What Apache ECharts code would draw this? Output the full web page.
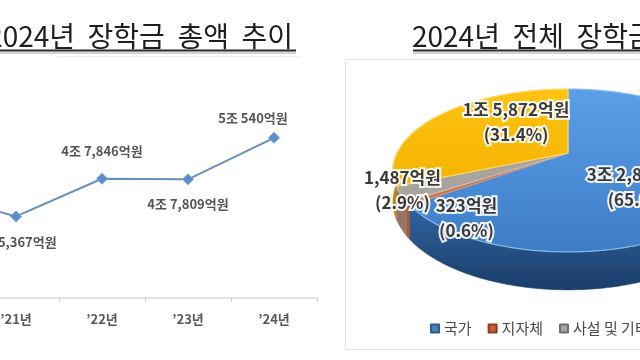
<!DOCTYPE html>
<html><head><meta charset="utf-8">
<script src="https://cdn.jsdelivr.net/npm/echarts@6/dist/echarts.min.js"></script>
<style>html,body{margin:0;padding:0;background:#fff}#main{width:640px;height:360px}</style>
</head><body><div id="main"></div>
<script>
// ---- data ----
const years = ['’20년', '’21년', '’22년', '’23년', '’24년'];
const totals = [46900, 45367, 47846, 47809, 50540]; // 억원
const pieNames = ['국가', '지자체', '사설 및 기타', '교내'];
const pieValues = [32858, 323, 1487, 15872]; // 억원
const leftTitle = '2024년 장학금 총액 추이';
const rightTitle = '2024년 전체 장학금 구성';

// ---- layout / style config ----
const FONT = '"Noto Sans CJK KR", "Noto Sans", sans-serif';
const lineLabelLayout = [
  {pos: 'bottom', dist: 13, dx: 0},
  {pos: 'bottom', dist: 13, dx: 0},
  {pos: 'top', dist: 15, dx: 0},
  {pos: 'bottom', dist: 12, dx: 0},
  {pos: 'top', dist: 7, dx: -21}
];
const P = {cx: 568, cy: 153, R: 171, Ry: 77.7, k: 0.2147, depth: 29.8};
const topColors = [
  {type: 'linear', x: 0, y: 89, x2: 0, y2: 252, global: true, colorStops: [{offset: 0, color: '#5a9fe8'}, {offset: 1, color: '#3d7dc6'}]},
  '#c9764f', '#aaa49f',
  {type: 'linear', x: 0, y: 89, x2: 0, y2: 190, global: true, colorStops: [{offset: 0, color: '#ffc313'}, {offset: 1, color: '#f3b200'}]}
];
const topStroke = ['#86b8ee', '#d99070', '#c4bfba', '#ffd866'];
const sideColors = [
  {type: 'linear', x: 0, y: 200, x2: 0, y2: 290, global: true, colorStops: [{offset: 0, color: '#3066a3'}, {offset: 1, color: '#1b3d69'}]},
  '#9c5a36', '#9a7462', '#b98a10'
];
const legendColors = ['#4a7ebb', '#cc5b3a', '#a5a5a5', '#ffc000'];
const legendBorders = ['#2f5a8e', '#8e3a22', '#707070', '#b08500'];
const pieLabelLayout = [
  {f: 0.5, dx: -8, dy: 15},
  {f: 0.7, dx: 6, dy: 31},
  {f: 1.0, dx: 2, dy: -4},
  {f: 0.6, dx: 28, dy: -7}
];

// ---- helpers ----
function fmtEok(v) {
  const jo = Math.floor(v / 10000), r = v % 10000;
  return (jo ? jo + '조 ' : '') + r.toLocaleString('en-US') + '억원';
}
const pieTotal = pieValues.reduce((a, b) => a + b, 0);
function sliceAngles(i) {
  let s = 0;
  for (let j = 0; j < i; j++) s += pieValues[j];
  return [s / pieTotal * 360, (s + pieValues[i]) / pieTotal * 360];
}
function proj(deg, f) {
  const t = deg * Math.PI / 180;
  const u = f * Math.sin(t), v = -f * Math.cos(t);
  const d = 1 - P.k * v;
  return [P.cx + P.R * u / d, P.cy + P.Ry * v / d, d];
}
function arc(a0, a1, f) {
  const n = Math.max(2, Math.ceil(a1 - a0));
  const pts = [];
  for (let s = 0; s <= n; s++) pts.push(proj(a0 + (a1 - a0) * s / n, f));
  return pts;
}
const gapTitle = t => t.split(' ').join('  ');

const chart = echarts.init(document.getElementById('main'));
chart.setOption({
  backgroundColor: '#fff',
  animation: false,
  grid: {left: -113, right: 323, top: 70, bottom: 62, containLabel: false, outerBoundsMode: 'none'},
  xAxis: {
    type: 'category', data: years, boundaryGap: true,
    axisLine: {lineStyle: {color: '#d9d9d9', width: 1.5}},
    axisTick: {show: true, length: 4, lineStyle: {color: '#d0d0d0'}},
    axisLabel: {color: '#595959', fontSize: 13, fontWeight: 'bold', margin: 15, fontFamily: FONT}
  },
  yAxis: {type: 'value', show: false, min: 40000, max: 55000},
  legend: {
    data: pieNames, left: 425, top: 316, width: 500,
    itemWidth: 8, itemHeight: 8, itemGap: 16, icon: 'rect',
    textStyle: {color: '#4a4a4a', fontSize: 15, fontFamily: FONT},
    selectedMode: false
  },
  graphic: [
    {type: 'rect', shape: {x: 345.5, y: 59.5, width: 320, height: 290}, style: {fill: 'none', stroke: '#e4e4e4', lineWidth: 1}, z: -10},
    {type: 'line', shape: {x1: 57, y1: 56.5, x2: 300, y2: 56.5}, style: {stroke: '#ececec', lineWidth: 1}},
    {type: 'text', style: {text: gapTitle(leftTitle), x: 293, y: 36, align: 'right', verticalAlign: 'middle', font: '28px ' + FONT, fill: '#1e1e1e'}},
    {type: 'line', shape: {x1: 0, y1: 50.5, x2: 296, y2: 50.5}, style: {stroke: '#2a2a2a', lineWidth: 2}},
    {type: 'line', shape: {x1: 0, y1: 53, x2: 296, y2: 53}, style: {stroke: '#c4c4c4', lineWidth: 1.5}},
    {type: 'text', style: {text: gapTitle(rightTitle), x: 412, y: 36, align: 'left', verticalAlign: 'middle', font: '28px ' + FONT, fill: '#1e1e1e'}},
    {type: 'line', shape: {x1: 413, y1: 50.5, x2: 640, y2: 50.5}, style: {stroke: '#2a2a2a', lineWidth: 2}},
    {type: 'line', shape: {x1: 413, y1: 53, x2: 640, y2: 53}, style: {stroke: '#c4c4c4', lineWidth: 1.5}}
  ],
  series: [
    {
      type: 'line', name: '총액',
      data: totals.map((v, i) => ({
        value: v,
        label: {position: lineLabelLayout[i].pos, distance: lineLabelLayout[i].dist, offset: [lineLabelLayout[i].dx, 0]}
      })),
      symbol: 'diamond', symbolSize: 11,
      lineStyle: {color: '#6890ba', width: 2},
      itemStyle: {color: '#5a8ec8', borderColor: '#7aa6d8', borderWidth: 1},
      label: {show: true, color: '#555', fontSize: 13, fontWeight: 'bold', fontFamily: FONT, formatter: p => fmtEok(p.value)}
    },
    {
      type: 'pie', name: 'legendPie', radius: [0, 0], center: [568, 153], silent: true,
      label: {show: false}, labelLine: {show: false},
      data: pieValues.map((v, i) => ({name: pieNames[i], value: v, itemStyle: {color: legendColors[i], borderColor: legendBorders[i], borderWidth: 1}}))
    },
    {
      type: 'custom', name: 'pieSide', coordinateSystem: 'none', z: 3, silent: true,
      data: pieValues.map((v, i) => ({name: pieNames[i], value: v})),
      renderItem: function (params) {
        const i = params.dataIndex;
        const [a0, a1] = sliceAngles(i);
        const s = Math.max(a0, 90), e = Math.min(a1, 270);
        if (s >= e) return {type: 'group', children: []};
        const topA = arc(s, e, 1);
        const pts = topA.map(p => [p[0], p[1]]);
        for (let j = topA.length - 1; j >= 0; j--) pts.push([topA[j][0], topA[j][1] + P.depth / topA[j][2]]);
        return {type: 'polygon', shape: {points: pts}, style: {fill: sideColors[i], stroke: sideColors[i], lineWidth: 0.5}};
      }
    },
    {
      type: 'custom', name: 'pieTop', coordinateSystem: 'none', z: 4, silent: true,
      data: pieValues.map((v, i) => ({name: pieNames[i], value: v})),
      renderItem: function (params, api) {
        const i = params.dataIndex;
        const v = api.value(0);
        const [a0, a1] = sliceAngles(i);
        const c = proj(0, 0);
        const pts = [[c[0], c[1]]].concat(arc(a0, a1, 1).map(p => [p[0], p[1]]));
        const L = pieLabelLayout[i];
        const m = proj((a0 + a1) / 2, L.f);
        return {
          type: 'group',
          children: [
            {type: 'polygon', shape: {points: pts}, style: {fill: topColors[i], stroke: topStroke[i], lineWidth: 1.2}},
            {type: 'text', z2: 100, style: {
              text: fmtEok(v) + '\n(' + (v / pieTotal * 100).toFixed(1) + '%)',
              x: m[0] + L.dx, y: m[1] + L.dy, align: 'center', verticalAlign: 'middle',
              font: 'bold 17px ' + FONT, lineHeight: 25,
              fill: '#3a3a3a', stroke: 'rgba(255,255,255,0.9)', lineWidth: 4
            }}
          ]
        };
      }
    }
  ]
});
</script>
</body></html>
